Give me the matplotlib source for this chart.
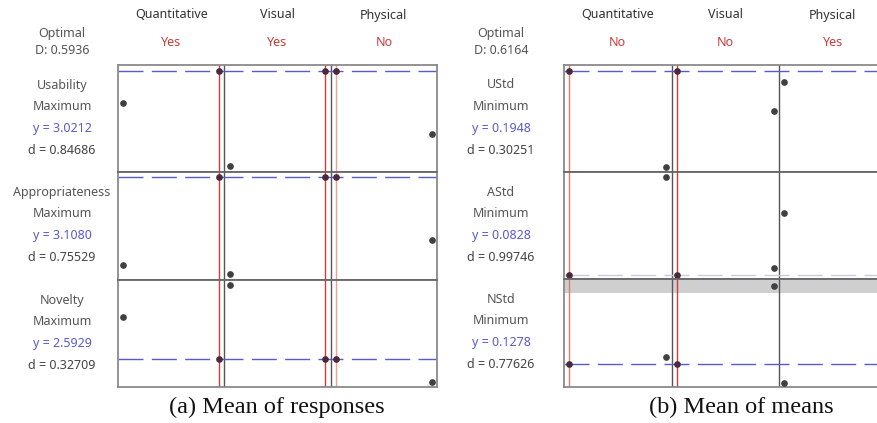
import matplotlib
matplotlib.use("Agg")
import matplotlib.pyplot as plt

# ---------------- data ----------------
factors = ["Quantitative", "Visual", "Physical"]
levels = ["No", "Yes"]

# panel (a): Mean of responses
a_optimal_D = "0.5936"
a_settings = ["Yes", "Yes", "No"]
a_responses = ["Usability", "Appropriateness", "Novelty"]
a_goals = ["Maximum", "Maximum", "Maximum"]
a_y = [3.0212, 3.1080, 2.5929]
a_d = ["0.84686", "0.75529", "0.32709"]
# response value at [factor][level No, Yes], other factors at optimum
a_usability = [[2.714, 3.0212], [2.108, 3.0212], [3.0212, 2.416]]
a_appropriateness = [[2.247, 3.1080], [2.159, 3.1080], [3.1080, 2.490]]
a_novelty = [[2.809, 2.5929], [2.974, 2.5929], [2.5929, 2.474]]
a_ylims = [(2.05, 3.08), (2.10, 3.155), (2.448, 3.0)]

# panel (b): Mean of means
b_optimal_D = "0.6164"
b_settings = ["No", "No", "Yes"]
b_responses = ["UStd", "AStd", "NStd"]
b_goals = ["Minimum", "Minimum", "Minimum"]
b_y = [0.1948, 0.0828, 0.1278]
b_d = ["0.30251", "0.99746", "0.77626"]
b_ustd = [[0.1948, 0.1115], [0.1948, 0.160], [0.1852, 0.1948]]
b_astd = [[0.0828, 0.1943], [0.0828, 0.0908], [0.1534, 0.0828]]
b_nstd = [[0.1278, 0.1305], [0.1278, 0.1573], [0.1206, 0.1278]]
b_ylims = [(0.107, 0.20), (0.0783, 0.20), (0.1191, 0.16)]
b_band = (0.1547, 0.16)   # shaded region in NStd row

# ---------------- styles ----------------
W, H = 877, 423
fig = plt.figure(figsize=(W / 100, H / 100), dpi=100)
FONT = ["Noto Sans", "DejaVu Sans"]
plt.rcParams["font.family"] = FONT

GRAY = "#555555"
BLUE = "#5a5ad0"
RED = "#cc3a3a"
DOT = "#404040"
DOT_CUR = "#4a2a3a"
FS = 9

def fig_ax(x0, x1, ytop, ybot):
    return fig.add_axes([x0 / W, 1 - ybot / H, (x1 - x0) / W, (ybot - ytop) / H])

def panel(x0, x1, rows_px, lbl_x, optimal_D, settings, responses, goals, ys, ds,
          vals, ylims, redcols, band=None, light_dash_row=None):
    colw = (x1 - x0) / 3.0
    lvl_pos = {"No": 0.05, "Yes": 0.95}
    for r, (ytop, ybot) in enumerate(rows_px):
        ax = fig_ax(x0, x1, ytop, ybot)
        ax.set_xlim(0, 3)
        ax.set_ylim(*ylims[r])
        ax.set_xticks([])
        ax.set_yticks([])
        for s in ax.spines.values():
            s.set_color("#8a8a8a")
            s.set_linewidth(1.3)
        if r > 0:
            ax.spines["top"].set_color("#666666")
        for c in (1, 2):
            ax.axvline(c, color=GRAY, lw=1.0, zorder=2)
        if band is not None and r == 2:
            ax.axhspan(band[0], band[1], color="#cfcfcf", lw=0, zorder=0)
        dcol = BLUE if light_dash_row != r else "#c9c9e6"
        ax.axhline(ys[r], color=dcol, lw=1.0, dashes=(18, 6), zorder=2)
        for c in range(3):
            cur = settings[c]
            xr = c + lvl_pos[cur]
            ax.axvline(xr, color=redcols[c], lw=1.0, zorder=1)
            for li, lv in enumerate(levels):
                xv = c + lvl_pos[lv]
                ax.plot([xv], [vals[r][c][li]], "o", ms=3.8,
                        color=DOT_CUR if lv == cur else DOT, zorder=4, clip_on=False)
        # row labels
        lines = [(responses[r], GRAY), (goals[r], GRAY),
                 ("y = %.4f" % ys[r], BLUE), ("d = " + ds[r], "#444444")]
        for i, (t, col) in enumerate(lines):
            yy = ytop + 20 + i * 21.9
            fig.text(lbl_x / W, 1 - yy / H, t, ha="center", va="center",
                     fontsize=FS, color=col)
    # header
    fig.text(lbl_x / W, 1 - 33 / H, "Optimal", ha="center", va="center",
             fontsize=FS, color=GRAY)
    fig.text(lbl_x / W, 1 - 50 / H, "D: " + optimal_D, ha="center", va="center",
             fontsize=FS, color=GRAY)
    for c in range(3):
        xc = x0 + colw * (c + 0.5)
        fig.text(xc / W, 1 - 15 / H, factors[c], ha="center", va="center",
                 fontsize=FS, color="#333333")
        fig.text(xc / W, 1 - 42 / H, settings[c], ha="center", va="center",
                 fontsize=FS, color=RED)

panel(118, 437, [(65, 172), (172, 280), (280, 387)], 62,
      a_optimal_D, a_settings, a_responses, a_goals, a_y, a_d,
      [a_usability, a_appropriateness, a_novelty], a_ylims,
      ["#d03a3a", "#d03a3a", "#eea090"])

panel(564, 886.5, [(65, 172), (172, 279), (279, 387)], 501,
      b_optimal_D, b_settings, b_responses, b_goals, b_y, b_d,
      [b_ustd, b_astd, b_nstd], b_ylims,
      ["#e07a6a", "#d03a3a", "#e07a6a"], band=b_band, light_dash_row=1)

SERIF = ["Liberation Serif", "DejaVu Serif"]
fig.text(277 / W, 1 - 407 / H, "(a) Mean of responses", ha="center", va="center",
         fontsize=17.5, family=SERIF, color="#111111")
fig.text(741 / W, 1 - 407 / H, "(b) Mean of means", ha="center", va="center",
         fontsize=17.5, family=SERIF, color="#111111")

fig.savefig("out.png", dpi=100)
